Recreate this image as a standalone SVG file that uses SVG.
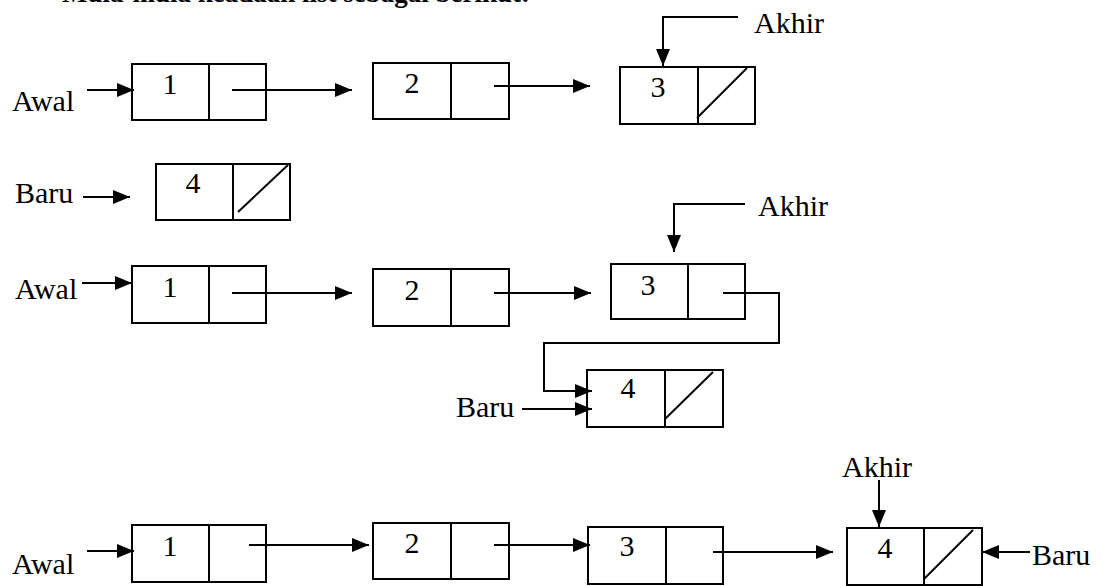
<svg xmlns="http://www.w3.org/2000/svg" width="1108" height="586" viewBox="0 0 1108 586">
<style>
.box{fill:none;stroke:#000;stroke-width:2}
.ln{fill:none;stroke:#000;stroke-width:2}
.lbl{font-family:"Liberation Serif","Times New Roman",serif;font-size:30px;fill:#000}
.num{font-family:"Liberation Serif","Times New Roman",serif;font-size:30px;fill:#000;text-anchor:middle}
.hdr{font-family:"Liberation Serif","Times New Roman",serif;font-size:27px;font-weight:bold;fill:#000}
.arr{fill:none;stroke:#000;stroke-width:2;marker-end:url(#ah)}
</style>
<defs>
<marker id="ah" markerWidth="17" markerHeight="14" refX="17" refY="7" orient="auto" markerUnits="userSpaceOnUse">
<path d="M0,0 L17,7 L0,14 z" fill="#000"/>
</marker>
</defs>
<rect width="1108" height="586" fill="#fff"/>
<text class="hdr" x="62" y="2">Mula-mula keadaan list sebagai berikut:</text>

<!-- Row 1 -->
<g id="r1-awal"><text class="lbl" x="12" y="111">Awal</text></g>
<g id="r1-n1"><rect class="box" x="132" y="64" width="134" height="56"/><line class="ln" x1="209" y1="64" x2="209" y2="120"/><text class="num" x="170" y="94">1</text></g>
<g id="r1-n2"><rect class="box" x="373" y="63" width="136" height="56"/><line class="ln" x1="451" y1="63" x2="451" y2="119"/><text class="num" x="412" y="93">2</text></g>
<g id="r1-n3"><rect class="box" x="620" y="67" width="135" height="57"/><line class="ln" x1="698" y1="67" x2="698" y2="124"/><line class="ln" x1="697" y1="118" x2="747" y2="68"/><text class="num" x="658" y="97">3</text></g>
<g id="r1-akhir"><text class="lbl" x="754" y="33">Akhir</text></g>

<!-- Row 2 -->
<g id="r2-baru"><text class="lbl" x="15" y="203">Baru</text></g>
<g id="r2-n4"><rect class="box" x="156" y="164" width="134" height="56"/><line class="ln" x1="233" y1="164" x2="233" y2="220"/><line class="ln" x1="238" y1="212" x2="288" y2="165"/><text class="num" x="193" y="193">4</text></g>

<!-- Row 3 -->
<g id="r3-awal"><text class="lbl" x="15" y="299">Awal</text></g>
<g id="r3-n1"><rect class="box" x="132" y="266" width="134" height="57"/><line class="ln" x1="209" y1="266" x2="209" y2="323"/><text class="num" x="170" y="297">1</text></g>
<g id="r3-n2"><rect class="box" x="373" y="269" width="136" height="57"/><line class="ln" x1="451" y1="269" x2="451" y2="326"/><text class="num" x="412" y="300">2</text></g>
<g id="r3-n3"><rect class="box" x="611" y="264" width="134" height="55"/><line class="ln" x1="688" y1="264" x2="688" y2="319"/><text class="num" x="648" y="295">3</text></g>
<g id="r3-n4"><rect class="box" x="587" y="370" width="136" height="57"/><line class="ln" x1="665" y1="370" x2="665" y2="427"/><line class="ln" x1="665" y1="419" x2="713" y2="372"/><text class="num" x="628" y="398">4</text></g>
<g id="r3-akhir"><text class="lbl" x="758" y="216">Akhir</text></g>
<g id="r3-baru"><text class="lbl" x="456" y="417">Baru</text></g>

<!-- Row 4 -->
<g id="r4-awal"><text class="lbl" x="12" y="574">Awal</text></g>
<g id="r4-n1"><rect class="box" x="132" y="525" width="134" height="57"/><line class="ln" x1="209" y1="525" x2="209" y2="582"/><text class="num" x="170" y="556">1</text></g>
<g id="r4-n2"><rect class="box" x="373" y="523" width="136" height="56"/><line class="ln" x1="451" y1="523" x2="451" y2="579"/><text class="num" x="412" y="553">2</text></g>
<g id="r4-n3"><rect class="box" x="588" y="527" width="135" height="57"/><line class="ln" x1="666" y1="527" x2="666" y2="584"/><text class="num" x="627" y="556">3</text></g>
<g id="r4-n4"><rect class="box" x="847" y="528" width="135" height="57"/><line class="ln" x1="924" y1="528" x2="924" y2="585"/><line class="ln" x1="924" y1="579" x2="973" y2="530"/><text class="num" x="885" y="558">4</text></g>
<g id="r4-akhir"><text class="lbl" x="842" y="477">Akhir</text></g>
<g id="r4-baru"><text class="lbl" x="1032" y="565">Baru</text></g>

<g id="connectors">
<path class="arr" d="M87,90 H134"/>
<path class="arr" d="M232,90 H352"/>
<path class="arr" d="M494,86 H590"/>
<path class="arr" d="M738,17 H663 V66"/>
<path class="arr" d="M83,197 H130"/>
<path class="arr" d="M82,283 H132"/>
<path class="arr" d="M232,293 H352"/>
<path class="arr" d="M494,293 H591"/>
<path class="arr" d="M745,204 H674 V252"/>
<path class="arr" d="M723,293 H779 V343 H544 V391 H592"/>
<path class="arr" d="M522,409 H592"/>
<path class="arr" d="M87,551 H134"/>
<path class="arr" d="M249,545 H369"/>
<path class="arr" d="M494,545 H590"/>
<path class="arr" d="M713,552 H833"/>
<path class="arr" d="M879,480 V527"/>
<path class="arr" d="M1030,552 H982"/>
</g>
</svg>
